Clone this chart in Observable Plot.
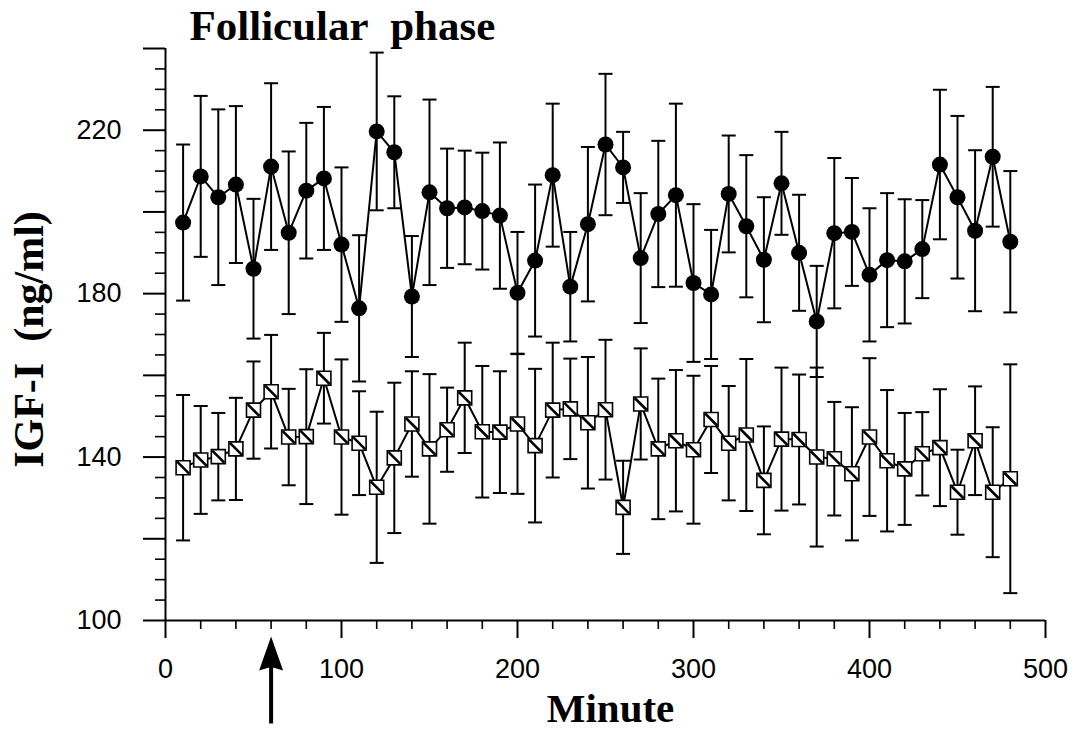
<!DOCTYPE html>
<html>
<head>
<meta charset="utf-8">
<script src="https://cdn.jsdelivr.net/npm/d3@7"></script>
<script src="https://cdn.jsdelivr.net/npm/@observablehq/plot@0.6"></script>
<style>
  html, body { margin: 0; padding: 0; background: #fff; }
  #chart svg { display: block; overflow: visible; }
</style>
</head>
<body>
<div id="chart"></div>
<script>
// ---- Data ----
const minutes = [10, 20, 30, 40, 50, 60, 70, 80, 90, 100, 110, 120, 130, 140, 150, 160,
  170, 180, 190, 200, 210, 220, 230, 240, 250, 260, 270, 280, 290, 300, 310, 320,
  330, 340, 350, 360, 370, 380, 390, 400, 410, 420, 430, 440, 450, 460, 470, 480];

// upper series (filled circles): mean and error-bar half length
const upperMean = [197.4, 208.7, 203.6, 206.7, 186.1, 211.1, 194.9, 205.2, 208.2, 192.0,
  176.4, 219.7, 214.6, 179.3, 204.8, 200.9, 201.1, 200.2, 199.1, 180.2, 188.1, 209.0,
  181.7, 197.0, 216.5, 210.9, 188.7, 199.5, 204.1, 182.6, 179.8, 204.4, 196.5, 188.3,
  207.0, 190.0, 173.2, 194.8, 195.1, 184.6, 188.2, 187.9, 190.9, 211.6, 203.6, 195.4,
  213.5, 192.7];
const upperErr = [19.1, 19.7, 21.5, 19.2, 17.1, 20.4, 19.9, 16.6, 17.5, 18.9,
  17.9, 19.3, 13.7, 14.8, 22.7, 14.6, 13.9, 14.3, 17.9, 14.9, 18.6, 17.5,
  13.4, 18.9, 17.3, 8.7, 15.9, 17.9, 22.4, 19.3, 15.8, 14.3, 17.4, 15.3,
  12.6, 14.2, 13.6, 18.4, 13.2, 16.3, 16.4, 15.2, 12.0, 18.3, 19.9, 19.7,
  17.1, 17.3];

// lower series (open squares with diagonal): mean and error-bar half length
const lowerMean = [137.4, 139.3, 140.1, 142.0, 151.5, 156.0, 144.9, 145.0, 159.3, 144.9,
  143.4, 132.6, 139.8, 148.1, 142.0, 146.7, 154.5, 146.2, 146.1, 148.1, 142.8, 151.5,
  151.8, 148.4, 151.6, 127.7, 153.0, 142.0, 144.0, 141.8, 149.2, 143.4, 145.4, 134.3,
  144.4, 144.3, 140.0, 139.6, 135.9, 144.9, 139.1, 137.1, 140.8, 142.3, 131.4, 144.0,
  131.4, 134.7];
const lowerErr = [17.8, 13.2, 10.7, 12.5, 11.9, 13.9, 11.8, 16.5, 11.1, 19.0,
  12.7, 18.5, 18.4, 12.9, 18.3, 10.3, 13.5, 16.1, 14.9, 17.1, 18.8, 16.5,
  12.3, 16.1, 17.1, 11.4, 13.6, 17.2, 17.3, 18.1, 13.1, 14.0, 18.6, 13.2,
  17.5, 15.9, 21.9, 13.9, 16.3, 19.3, 17.3, 13.7, 10.2, 14.3, 10.4, 13.3,
  15.9, 28.0];

// axis ticks and labels
const xDomain = [0, 500];
const yDomain = [100, 240];
const xMajorTicks = [0, 100, 200, 300, 400, 500];
const xMinorTicks = [20, 40, 60, 80, 120, 140, 160, 180, 220, 240, 260, 280, 320, 340, 360, 380, 420, 440, 460, 480];
const yMajorTicks = [100, 120, 140, 160, 180, 200, 220, 240];
const yLabeledTicks = [100, 140, 180, 220];
const yMinorTicks = d3.range(100, 241, 5).filter(v => !yMajorTicks.includes(v));

const titleText = "Follicular\u00a0\u00a0phase";
const yLabelText = "IGF-I\u00a0\u00a0(ng/ml)";
const xLabelText = "Minute";
const arrowMinute = [60];

// ---- Build tables ----
const upper = minutes.map((m, i) => ({minute: m, mean: upperMean[i], lo: upperMean[i] - upperErr[i], hi: upperMean[i] + upperErr[i]}));
const lower = minutes.map((m, i) => ({minute: m, mean: lowerMean[i], lo: lowerMean[i] - lowerErr[i], hi: lowerMean[i] + lowerErr[i]}));
const caps = [...upper, ...lower].flatMap(d => [{minute: d.minute, v: d.lo}, {minute: d.minute, v: d.hi}]);

// ---- Custom symbols ----
const capSym = {draw(c) { c.moveTo(-7, 0); c.lineTo(7, 0); }};
const squareSym = {draw(c) { c.moveTo(-7, -7); c.lineTo(7, -7); c.lineTo(7, 7); c.lineTo(-7, 7); c.closePath(); }};
const slashSym = {draw(c) { c.moveTo(-6, -6); c.lineTo(6, 6); }};
const arrowSym = {draw(c) {
  c.moveTo(0, 0); c.lineTo(12, 34); c.lineTo(2, 31); c.lineTo(2, 87);
  c.lineTo(-2, 87); c.lineTo(-2, 31); c.lineTo(-12, 34); c.closePath();
}};

const serif = "'Liberation Serif', 'Times New Roman', serif";

const chart = Plot.plot({
  width: 1081,
  height: 732,
  marginLeft: 165,
  marginRight: 36,
  marginTop: 48,
  marginBottom: 112,
  style: {fontFamily: "'Liberation Sans', Arial, sans-serif", fontSize: "27px", color: "black", background: "white"},
  x: {domain: xDomain, label: null},
  y: {domain: yDomain, label: null},
  marks: [
    // axis lines
    Plot.ruleY([yDomain[0]], {stroke: "black", strokeWidth: 2}),
    Plot.ruleX([xDomain[0]], {stroke: "black", strokeWidth: 2}),
    // y axis ticks
    Plot.axisY({ticks: yMajorTicks, tickSize: 22, tickPadding: 22, strokeWidth: 2, label: null,
      tickFormat: d => yLabeledTicks.includes(d) ? String(d) : ""}),
    Plot.axisY({ticks: yMinorTicks, tickSize: 10, strokeWidth: 1.6, label: null, tickFormat: () => ""}),
    // x axis ticks
    Plot.axisX({ticks: xMajorTicks, tickSize: 18, tickPadding: 20, strokeWidth: 2, label: null,
      tickFormat: d => String(d)}),
    Plot.axisX({ticks: xMinorTicks, tickSize: 9, strokeWidth: 1.6, label: null, tickFormat: () => ""}),
    // error bars
    Plot.ruleX(upper, {x: "minute", y1: "lo", y2: "hi", stroke: "black", strokeWidth: 2}),
    Plot.ruleX(lower, {x: "minute", y1: "lo", y2: "hi", stroke: "black", strokeWidth: 2}),
    Plot.dot(caps, {x: "minute", y: "v", symbol: capSym, stroke: "black", strokeWidth: 2, fill: "none"}),
    // connecting lines
    Plot.line(upper, {x: "minute", y: "mean", stroke: "black", strokeWidth: 2}),
    Plot.line(lower, {x: "minute", y: "mean", stroke: "black", strokeWidth: 2}),
    // markers
    Plot.dot(upper, {x: "minute", y: "mean", r: 8, fill: "black", stroke: "none"}),
    Plot.dot(lower, {x: "minute", y: "mean", symbol: squareSym, fill: "white", stroke: "black", strokeWidth: 1.6}),
    Plot.dot(lower, {x: "minute", y: "mean", symbol: slashSym, fill: "none", stroke: "black", strokeWidth: 2.6}),
    // injection arrow
    Plot.dot(arrowMinute, {x: d => d, y: () => yDomain[0], dy: 16, symbol: arrowSym, fill: "black", stroke: "none"}),
    // titles
    Plot.text([titleText], {text: d => d, frameAnchor: "top-left", textAnchor: "start", lineAnchor: "bottom",
      dx: 24, dy: -9, fontFamily: serif, fontWeight: "bold", fontSize: 43, fill: "black"}),
    Plot.text([yLabelText], {text: d => d, frameAnchor: "left", textAnchor: "middle", lineAnchor: "middle",
      rotate: -90, dx: -136, dy: 5,
      fontFamily: serif, fontWeight: "bold", fontSize: 42, fill: "black"}),
    Plot.text([xLabelText], {text: d => d, frameAnchor: "bottom", textAnchor: "middle", lineAnchor: "bottom",
      dx: 5, dy: 101, fontFamily: serif, fontWeight: "bold", fontSize: 41, fill: "black"})
  ]
});
document.getElementById("chart").appendChild(chart);
</script>
</body>
</html>
